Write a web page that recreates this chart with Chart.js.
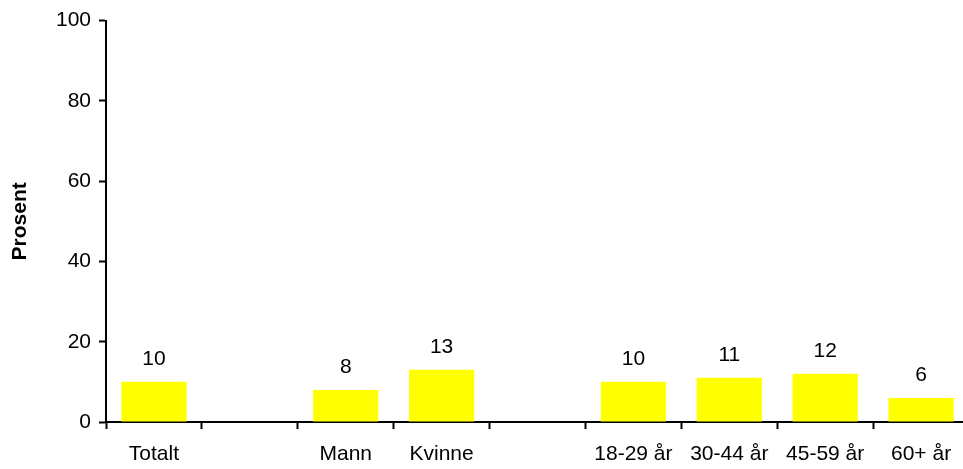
<!DOCTYPE html>
<html>
<head>
<meta charset="utf-8">
<script src="https://cdn.jsdelivr.net/npm/chart.js@4/dist/chart.umd.min.js"></script>
<style>
  html, body { margin: 0; padding: 0; background: #fff; overflow: hidden; }
  #wrap { width: 969px; height: 469px; }
</style>
</head>
<body>
<div id="wrap"><canvas id="c" width="969" height="469"></canvas></div>
<script>
// Categories with empty slots separating the groups (total / gender / age)
const categories = ['Totalt', '', 'Mann', 'Kvinne', '', '18-29 år', '30-44 år', '45-59 år', '60+ år'];
const shares = [10, null, 8, 13, null, 10, 11, 12, 6];
const yTicks = [0, 20, 40, 60, 80, 100];
const yTitle = 'Prosent';

const FONT = '"Liberation Sans", Arial, sans-serif';

// Value labels above each bar
const valueLabels = {
  id: 'valueLabels',
  afterDatasetsDraw(chart) {
    const ctx = chart.ctx;
    const meta = chart.getDatasetMeta(0);
    ctx.save();
    ctx.font = '21px ' + FONT;
    ctx.fillStyle = '#000';
    ctx.textAlign = 'center';
    ctx.textBaseline = 'alphabetic';
    meta.data.forEach((bar, i) => {
      const v = shares[i];
      if (v === null || v === undefined) return;
      ctx.fillText(String(v), bar.x, bar.y - 17);
    });
    ctx.restore();
  }
};

new Chart(document.getElementById('c'), {
  type: 'bar',
  data: {
    labels: categories,
    datasets: [{
      data: shares,
      backgroundColor: '#FFFF00',
      borderWidth: 0,
      categoryPercentage: 1.0,
      barPercentage: 0.68
    }]
  },
  options: {
    responsive: false,
    animation: false,
    devicePixelRatio: 1,
    layout: { padding: { top: 3, left: 0, right: 0, bottom: 0 } },
    plugins: { legend: { display: false }, tooltip: { enabled: false } },
    scales: {
      x: {
        offset: true,
        grid: { offset: true, drawOnChartArea: false, drawTicks: true, tickLength: 7, tickWidth: 2, tickColor: '#000' },
        border: { color: '#000', width: 2 },
        ticks: { color: '#000', font: { family: FONT, size: 21 }, padding: 13, maxRotation: 0, autoSkip: false },
        afterFit(scale) { scale.height = 47; }
      },
      y: {
        min: 0,
        max: 100,
        afterBuildTicks(scale) { scale.ticks = yTicks.map(v => ({ value: v })); },
        grid: { drawOnChartArea: false, drawTicks: true, tickLength: 7, tickWidth: 2, tickColor: '#000' },
        border: { color: '#000', width: 2 },
        ticks: { color: '#000', font: { family: FONT, size: 21 }, padding: 8 },
        title: { display: true, text: yTitle, color: '#000', font: { family: FONT, size: 21, weight: 'bold' }, padding: { top: 8, bottom: 0 } },
        afterFit(scale) { scale.width = 106; }
      }
    }
  },
  plugins: [valueLabels]
});
</script>
</body>
</html>
